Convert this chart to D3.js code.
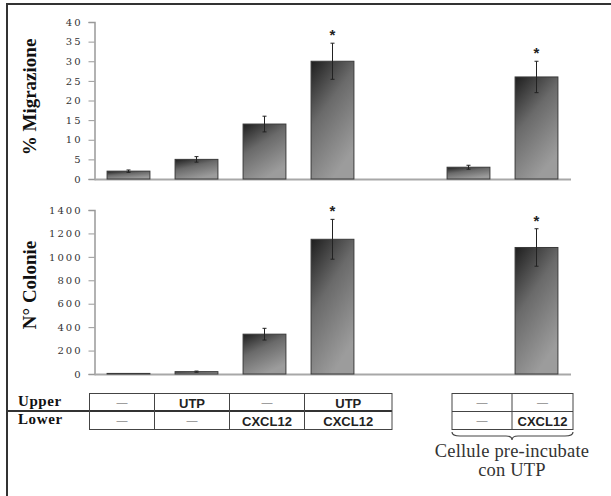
<!DOCTYPE html>
<html>
<head>
<meta charset="utf-8">
<script src="https://cdn.jsdelivr.net/npm/d3@7"></script>
<style>
  body { margin: 0; background: #fff; }
  svg { display: block; }
  .tick text { font-family: "DejaVu Serif", serif; font-size: 10px; fill: #333; letter-spacing: 2px; }
</style>
</head>
<body>
<div id="chart"></div>
<script>
// Dati
const slots = ["ctrl", "utpUp", "cxclLow", "utpCxcl", "gap", "preCtrl", "preCxcl"];
const migrazione = [2, 5, 14, 30, null, 3, 26];
const migrazioneErr = [0.3, 0.7, 2, 4.6, null, 0.5, 4];
const colonie = [5, 20, 340, 1150, null, 0, 1080];
const colonieErr = [0, 5, 50, 170, null, 0, 160];
const stars = ["", "", "", "*", "", "", "*"];
const migrazioneTicks = [0, 5, 10, 15, 20, 25, 30, 35, 40];
const colonieTicks = [0, 200, 400, 600, 800, 1000, 1200, 1400];
const upperRow = ["—", "UTP", "—", "UTP"];
const lowerRow = ["—", "—", "CXCL12", "CXCL12"];
const preUpperRow = ["—", "—"];
const preLowerRow = ["—", "CXCL12"];

const W = 611, H = 496;
const svg = d3.select("#chart").append("svg").attr("width", W).attr("height", H);

// gradiente barre
const grad = svg.append("defs").append("linearGradient")
    .attr("id", "barGrad").attr("x1", 0).attr("y1", 0).attr("x2", 0.5).attr("y2", 1);
grad.append("stop").attr("offset", "0%").attr("stop-color", "#1e1e1e");
grad.append("stop").attr("offset", "45%").attr("stop-color", "#6a6a6a");
grad.append("stop").attr("offset", "100%").attr("stop-color", "#9c9c9c");

// cornice
svg.append("line").attr("x1", 7).attr("y1", 4).attr("x2", 7).attr("y2", H)
    .attr("stroke", "#333").attr("stroke-width", 2);
svg.append("line").attr("x1", 6).attr("y1", 4).attr("x2", W).attr("y2", 4)
    .attr("stroke", "#333").attr("stroke-width", 2);

const x = d3.scaleBand().domain(slots).range([94.5, 570.5]).paddingInner(0.37).paddingOuter(0.185);

function drawPanel(values, errs, ticks, yTop, yBottom, title, titleY) {
    const y = d3.scaleLinear().domain([ticks[0], ticks[ticks.length - 1]]).range([yBottom, yTop]);
    const g = svg.append("g");

    const axis = g.append("g").attr("transform", "translate(94.5,0)")
        .call(d3.axisLeft(y).tickValues(ticks).tickFormat(d3.format("d")).tickSize(6).tickPadding(6));
    axis.select(".domain").attr("stroke", "#999").attr("stroke-width", 1.5);
    axis.selectAll(".tick line").attr("stroke", "#999");

    g.append("line").attr("x1", 94.5).attr("x2", 571).attr("y1", y(0) + 0.5).attr("y2", y(0) + 0.5)
        .attr("stroke", "#a8a8a8").attr("stroke-width", 2);

    const data = slots.map((s, i) => ({ s, v: values[i], e: errs[i], star: stars[i] }))
        .filter(d => d.v !== null);

    g.selectAll(".bar").data(data.filter(d => d.v > 0)).enter().append("rect")
        .attr("x", d => x(d.s))
        .attr("y", d => y(d.v))
        .attr("width", x.bandwidth())
        .attr("height", d => y(0) - y(d.v))
        .attr("fill", "url(#barGrad)")
        .attr("stroke", "#3a3a3a").attr("stroke-width", 1);

    const eb = g.selectAll(".err").data(data.filter(d => d.e > 0)).enter().append("g")
        .attr("transform", d => `translate(${x(d.s) + x.bandwidth() / 2},0)`);
    eb.append("line").attr("y1", d => y(d.v + d.e)).attr("y2", d => y(d.v - d.e))
        .attr("stroke", "#222").attr("stroke-width", 1);
    eb.append("line").attr("x1", -2).attr("x2", 2).attr("y1", d => y(d.v + d.e)).attr("y2", d => y(d.v + d.e))
        .attr("stroke", "#222");
    eb.append("line").attr("x1", -2).attr("x2", 2).attr("y1", d => y(d.v - d.e)).attr("y2", d => y(d.v - d.e))
        .attr("stroke", "#222");

    g.selectAll(".star").data(data.filter(d => d.star)).enter().append("text")
        .attr("x", d => x(d.s) + x.bandwidth() / 2)
        .attr("y", d => y(d.v + d.e) - 3)
        .attr("text-anchor", "middle")
        .style("font-family", "Liberation Sans, Arial, sans-serif")
        .style("font-weight", "bold").style("font-size", "15px").attr("fill", "#222")
        .text(d => d.star);

    g.append("text")
        .attr("transform", `translate(36,${titleY}) rotate(-90)`)
        .attr("text-anchor", "middle")
        .style("font-family", "Liberation Serif, Times New Roman, serif")
        .style("font-weight", "bold").style("font-size", "19px").attr("fill", "#111")
        .text(title);
}

drawPanel(migrazione, migrazioneErr, migrazioneTicks, 22, 179, "% Migrazione", 97);
drawPanel(colonie, colonieErr, colonieTicks, 210, 374, "N° Colonie", 285);

// tabella condizioni
const rowTop = 393.5, rowMid = 411, rowBot = 429.5;
const cols1 = [89.5, 154.5, 229.5, 304.5, 392];
const cols2 = [452, 512, 573];

svg.append("line").attr("x1", 7).attr("x2", cols1[4]).attr("y1", rowMid).attr("y2", rowMid)
    .attr("stroke", "#333").attr("stroke-width", 2);

function drawTable(cols, upper, lower, thickMid) {
    const t = svg.append("g");
    t.append("rect").attr("x", cols[0]).attr("y", rowTop)
        .attr("width", cols[cols.length - 1] - cols[0]).attr("height", rowBot - rowTop)
        .attr("fill", "none").attr("stroke", "#444").attr("stroke-width", 1);
    if (!thickMid) {
        t.append("line").attr("x1", cols[0]).attr("x2", cols[cols.length - 1])
            .attr("y1", rowMid + 0.5).attr("y2", rowMid + 0.5).attr("stroke", "#444");
    }
    cols.slice(1, -1).forEach(c => {
        t.append("line").attr("x1", c).attr("x2", c).attr("y1", rowTop).attr("y2", rowBot)
            .attr("stroke", "#444");
    });
    [[upper, 407.5], [lower, 426]].forEach(([row, base]) => {
        t.selectAll(null).data(row).enter().append("text")
            .attr("x", (d, i) => (cols[i] + cols[i + 1]) / 2)
            .attr("y", d => d === "—" ? base - 2 : base)
            .attr("text-anchor", "middle")
            .style("font-family", "Liberation Sans, Arial, sans-serif")
            .style("font-weight", d => d === "—" ? "normal" : "bold")
            .style("font-size", d => d === "—" ? "11px" : "13px")
            .attr("fill", d => d === "—" ? "#888" : "#222")
            .text(d => d);
    });
}

drawTable(cols1, upperRow, lowerRow, true);
drawTable(cols2, preUpperRow, preLowerRow, false);

[["Upper", 405.5], ["Lower", 424]].forEach(([lab, base]) => {
    svg.append("text").attr("x", 18).attr("y", base)
        .style("font-family", "Liberation Serif, Times New Roman, serif")
        .style("font-weight", "bold").style("font-size", "15px").style("letter-spacing", "0.6px")
        .attr("fill", "#111").text(lab);
});

// graffa
const bx0 = cols2[0], bx1 = cols2[2], bm = cols2[1], by = 432;
svg.append("path")
    .attr("d", `M${bx0},${by} Q${bx0},${by + 4} ${bx0 + 8},${by + 4} L${bm - 6},${by + 4} Q${bm},${by + 4} ${bm},${by + 8} Q${bm},${by + 4} ${bm + 6},${by + 4} L${bx1 - 8},${by + 4} Q${bx1},${by + 4} ${bx1},${by}`)
    .attr("fill", "none").attr("stroke", "#444").attr("stroke-width", 1.2);

[["Cellule pre-incubate", 457], ["con UTP", 476]].forEach(([txt, base]) => {
    svg.append("text").attr("x", 512).attr("y", base).attr("text-anchor", "middle")
        .style("font-family", "Liberation Serif, Times New Roman, serif")
        .style("font-size", "18.5px").style("letter-spacing", "0.2px").attr("fill", "#333").text(txt);
});
</script>
</body>
</html>
